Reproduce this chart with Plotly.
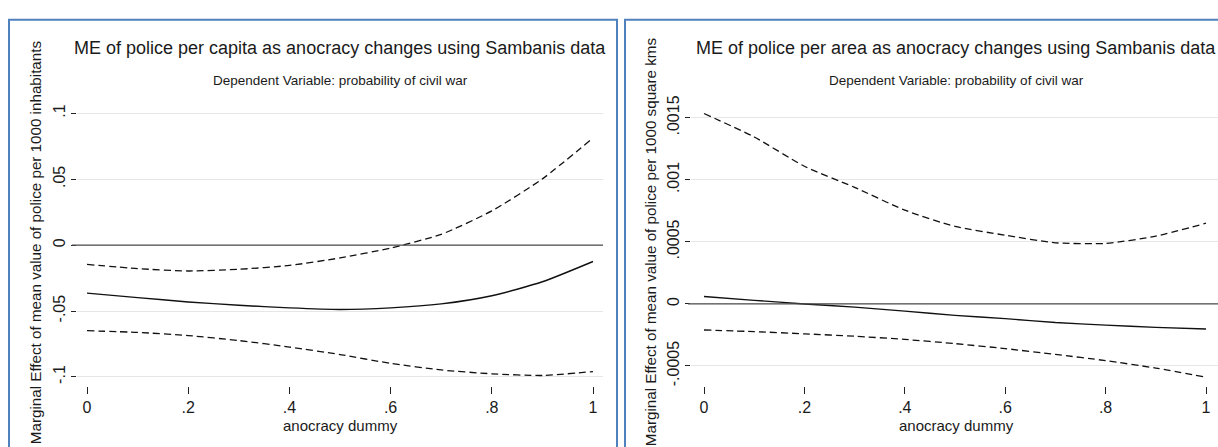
import plotly.graph_objects as go

W, H = 1218, 447

# ---------------- data ----------------
anocracy = [0.0, 0.1, 0.2, 0.3, 0.4, 0.5, 0.6, 0.7, 0.8, 0.9, 1.0]

# Left panel: police per capita
pc_me = [-0.0364, -0.0398, -0.0431, -0.0456, -0.0476, -0.0488, -0.0476, -0.0446, -0.0384, -0.0278, -0.0124]
pc_upper = [-0.0146, -0.0178, -0.0196, -0.0183, -0.0154, -0.0097, -0.0022, 0.0082, 0.0260, 0.0503, 0.0813]
pc_lower = [-0.0649, -0.0662, -0.0686, -0.0724, -0.0773, -0.0830, -0.0897, -0.0947, -0.0976, -0.0989, -0.0959]

# Right panel: police per area
pa_me = [0.0000604, 0.0000289, 0.0, -0.000026, -0.0000577, -0.000092, -0.000118, -0.000150, -0.000171, -0.000189, -0.000202]
pa_upper = [0.001535, 0.001346, 0.001110, 0.000940, 0.000756, 0.000625, 0.000554, 0.000493, 0.000488, 0.000546, 0.000651]
pa_lower = [-0.000210, -0.000223, -0.000241, -0.000260, -0.000286, -0.000320, -0.000360, -0.000407, -0.000457, -0.000517, -0.000590]

x_tickvals = [0, 0.2, 0.4, 0.6, 0.8, 1.0]
x_ticktext = ["0", ".2", ".4", ".6", ".8", "1"]
pc_tickvals = [-0.1, -0.05, 0, 0.05, 0.1]
pc_ticktext = ["-.1", "-.05", "0", ".05", ".1"]
pa_tickvals = [-0.0005, 0, 0.0005, 0.001, 0.0015]
pa_ticktext = ["-.0005", "0", ".0005", ".001", ".0015"]

titles = ["ME of police per capita as anocracy changes using Sambanis data",
          "ME of police per area as anocracy changes using Sambanis data"]
subtitle = "Dependent Variable: probability of civil war"
xtitle = "anocracy dummy"
ytitles = ["Marginal Effect of mean value of police per 1000 inhabitants",
           "Marginal Effect of mean value of police per 1000 square kms"]

FONT = "Liberation Sans, Arial, sans-serif"
TXT = "#1a1a1a"

fig = go.Figure()

dash = "7px,4px"
for xa, ya, me, up, lo in [("x", "y", pc_me, pc_upper, pc_lower),
                           ("x2", "y2", pa_me, pa_upper, pa_lower)]:
    fig.add_trace(go.Scatter(x=anocracy, y=up, mode="lines", xaxis=xa, yaxis=ya,
                             line=dict(color="#111111", width=1.3, dash=dash, shape="spline", smoothing=0.6),
                             showlegend=False, hoverinfo="skip"))
    fig.add_trace(go.Scatter(x=anocracy, y=me, mode="lines", xaxis=xa, yaxis=ya,
                             line=dict(color="#111111", width=1.4, shape="spline", smoothing=0.6),
                             showlegend=False, hoverinfo="skip"))
    fig.add_trace(go.Scatter(x=anocracy, y=lo, mode="lines", xaxis=xa, yaxis=ya,
                             line=dict(color="#111111", width=1.3, dash=dash, shape="spline", smoothing=0.6),
                             showlegend=False, hoverinfo="skip"))

def px_x(p):
    return p / W

def px_y(p):
    return 1 - p / H

# plot areas (pixels)
L = dict(x0=77, x1=603)
R = dict(x0=691, x1=1218)
TOP, BOT = 98, 385

def xrange(x0, x1, p0, p1):
    s = (p1 - p0)
    return [-(p0 - x0) / s, 1 + (x1 - p1) / s]

def yrange(zero_px, ppu):
    return [(zero_px - BOT) / ppu, (zero_px - TOP) / ppu]

axis_common = dict(showline=False, zeroline=False, ticks="outside", tickcolor="#222222",
                   tickfont=dict(family=FONT, size=16, color=TXT), tickwidth=1.3)

fig.update_layout(
    width=W, height=H, margin=dict(l=0, r=0, t=0, b=0),
    paper_bgcolor="white", plot_bgcolor="white",
    xaxis=dict(domain=[px_x(L["x0"]), px_x(L["x1"])], anchor="y",
               range=xrange(L["x0"], L["x1"], 87, 593), tickvals=x_tickvals, ticktext=x_ticktext,
               showgrid=False, ticklen=7, **axis_common),
    yaxis=dict(domain=[px_y(BOT), px_y(TOP)], anchor="x",
               range=yrange(241, 1345), tickvals=pc_tickvals, ticktext=pc_ticktext,
               showgrid=True, gridcolor="#e6e6e6", gridwidth=1.2, tickangle=-90, ticklen=5, **axis_common),
    xaxis2=dict(domain=[px_x(R["x0"]), px_x(R["x1"])], anchor="y2",
                range=xrange(R["x0"], R["x1"], 704, 1206), tickvals=x_tickvals, ticktext=x_ticktext,
                showgrid=False, ticklen=7, **axis_common),
    yaxis2=dict(domain=[px_y(BOT), px_y(TOP)], anchor="x2",
                range=yrange(301, 126600), tickvals=pa_tickvals, ticktext=pa_ticktext,
                showgrid=True, gridcolor="#e6e6e6", gridwidth=1.2, tickangle=-90, ticklen=5, **axis_common),
)

shapes = []
# zero reference lines
for ya, x0, x1 in [("y", 72, 603), ("y2", 688, 1218)]:
    shapes.append(dict(type="line", xref="paper", yref=ya, x0=px_x(x0), x1=px_x(x1),
                       y0=0, y1=0, line=dict(color="#4d4d4d", width=1.3), layer="above"))
# panel borders
shapes.append(dict(type="rect", xref="paper", yref="paper", x0=px_x(9), x1=px_x(617), y0=px_y(460), y1=px_y(11),
                   line=dict(color="#4f81bd", width=2)))
shapes.append(dict(type="rect", xref="paper", yref="paper", x0=px_x(625), x1=px_x(1240), y0=px_y(460), y1=px_y(11),
                   line=dict(color="#4f81bd", width=2)))
fig.update_layout(shapes=shapes)

ann = []
for i, (cx, ytx) in enumerate([(340, 35), (956, 650)]):
    ann.append(dict(text=titles[i], x=px_x(cx), y=px_y(40), xref="paper", yref="paper",
                    showarrow=False, xanchor="center", yanchor="middle",
                    font=dict(family=FONT, size=18, color=TXT)))
    ann.append(dict(text=subtitle, x=px_x(cx), y=px_y(73), xref="paper", yref="paper",
                    showarrow=False, xanchor="center", yanchor="middle",
                    font=dict(family=FONT, size=13.5, color=TXT)))
    ann.append(dict(text=xtitle, x=px_x(cx), y=px_y(425), xref="paper", yref="paper",
                    showarrow=False, xanchor="center", yanchor="middle",
                    font=dict(family=FONT, size=15, color=TXT)))
    ann.append(dict(text=ytitles[i], x=px_x(ytx), y=px_y(238), xref="paper", yref="paper",
                    showarrow=False, xanchor="center", yanchor="middle", textangle=-90,
                    font=dict(family=FONT, size=15.2, color=TXT)))
fig.update_layout(annotations=ann)

fig.write_html("out.html")
